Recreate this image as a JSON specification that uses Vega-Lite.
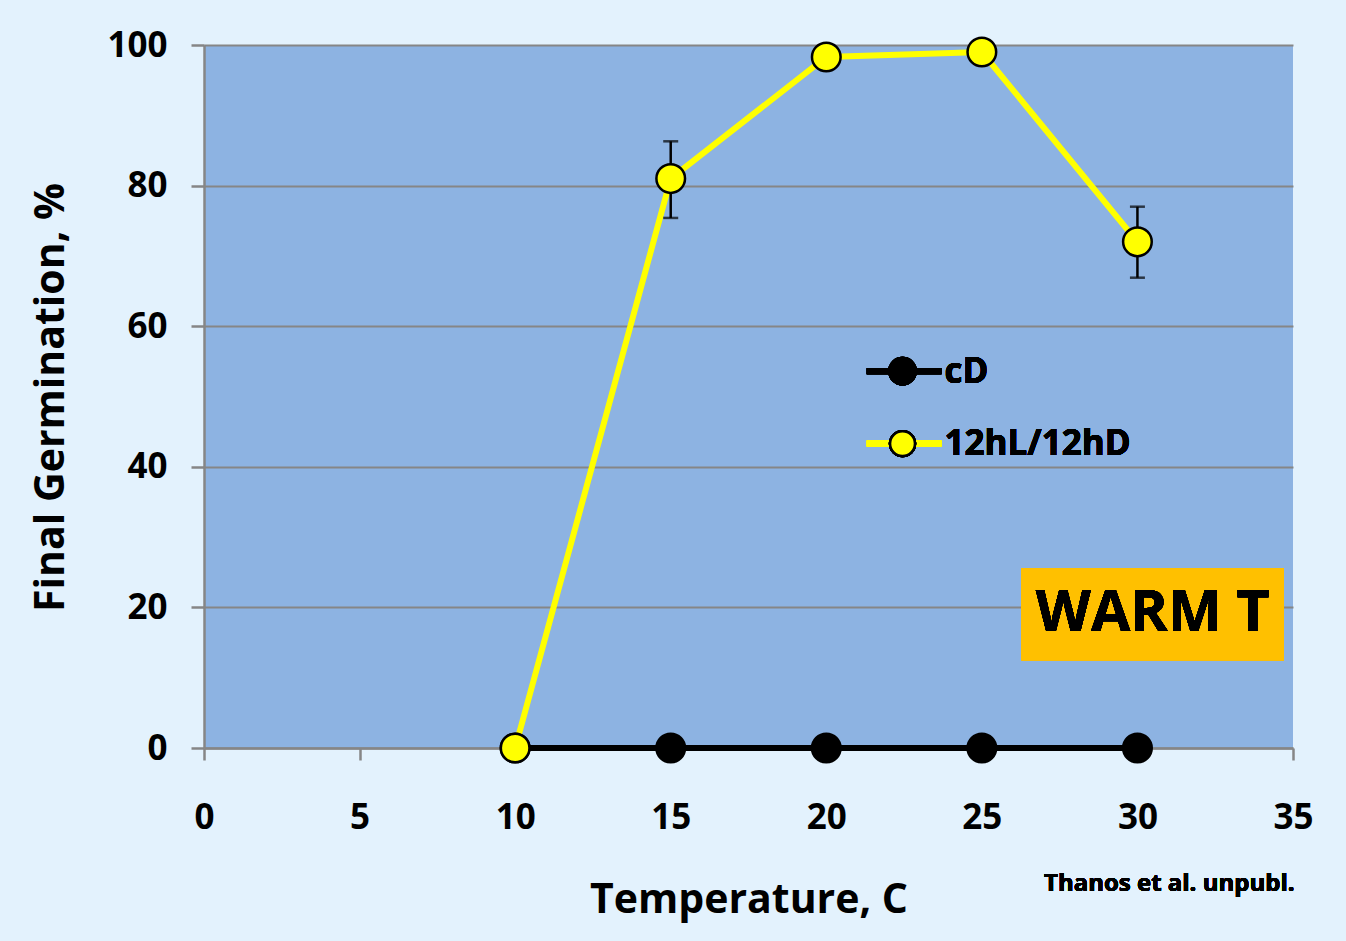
{
  "$schema": "https://vega.github.io/schema/vega-lite/v6.json",
  "width": 1089,
  "height": 703,
  "autosize": {"type": "none"},
  "padding": {"left": 204, "top": 45, "right": 53, "bottom": 193},
  "background": "#E3F2FD",
  "config": {
    "font": "Open Sans",
    "view": {"fill": "#8DB3E2", "stroke": null},
    "axis": {
      "labelFont": "Open Sans", "labelFontWeight": "bold", "labelFontSize": 35, "labelColor": "black",
      "titleFont": "Open Sans", "titleFontWeight": "bold", "titleFontSize": 41, "titleColor": "black",
      "domainColor": "#868686", "domainWidth": 2.5,
      "tickColor": "#868686", "tickWidth": 2.5, "tickSize": 12,
      "gridColor": "#868686", "gridWidth": 2,
      "labelFlush": false
    }
  },
  "data": {
    "values": [
      {"temp": 10, "germ": 0, "series": "cD"},
      {"temp": 15, "germ": 0, "series": "cD"},
      {"temp": 20, "germ": 0, "series": "cD"},
      {"temp": 25, "germ": 0, "series": "cD"},
      {"temp": 30, "germ": 0, "series": "cD"},
      {"temp": 10, "germ": 0, "series": "12hL/12hD"},
      {"temp": 15, "germ": 81, "lo": 75.4, "hi": 86.3, "series": "12hL/12hD"},
      {"temp": 20, "germ": 98.3, "series": "12hL/12hD"},
      {"temp": 25, "germ": 99, "series": "12hL/12hD"},
      {"temp": 30, "germ": 72, "lo": 66.9, "hi": 77, "series": "12hL/12hD"}
    ]
  },
  "layer": [
    {
      "mark": {"type": "line", "strokeWidth": 6},
      "encoding": {
        "x": {"field": "temp", "type": "quantitative",
              "scale": {"domain": [0, 35], "nice": false, "zero": false},
              "axis": {"title": "Temperature, C", "values": [0, 5, 10, 15, 20, 25, 30, 35], "grid": false,
                       "labelPadding": 40, "titleY": 164, "titleBaseline": "alphabetic"}},
        "y": {"field": "germ", "type": "quantitative",
              "scale": {"domain": [0, 100], "nice": false},
              "axis": {"title": "Final Germination, %", "values": [0, 20, 40, 60, 80, 100], "grid": true,
                       "labelPadding": 24, "tickSize": 13,
                       "titleX": -141, "titleY": 352, "titleAngle": -90, "titleAlign": "center", "titleBaseline": "alphabetic"}},
        "color": {"field": "series", "type": "nominal",
                  "scale": {"domain": ["cD", "12hL/12hD"], "range": ["#000000", "#FFFF00"]},
                  "legend": null},
        "detail": {"field": "series"}
      }
    },
    {
      "transform": [{"filter": "isValid(datum.lo)"}],
      "mark": {"type": "rule", "color": "black", "strokeWidth": 2.5},
      "encoding": {
        "x": {"field": "temp", "type": "quantitative"},
        "y": {"field": "lo", "type": "quantitative"},
        "y2": {"field": "hi"}
      }
    },
    {
      "transform": [{"filter": "isValid(datum.lo)"}],
      "mark": {"type": "tick", "orient": "horizontal", "color": "black", "size": 15, "thickness": 2.5},
      "encoding": {
        "x": {"field": "temp", "type": "quantitative"},
        "y": {"field": "lo", "type": "quantitative"}
      }
    },
    {
      "transform": [{"filter": "isValid(datum.hi)"}],
      "mark": {"type": "tick", "orient": "horizontal", "color": "black", "size": 15, "thickness": 2.5},
      "encoding": {
        "x": {"field": "temp", "type": "quantitative"},
        "y": {"field": "hi", "type": "quantitative"}
      }
    },
    {
      "mark": {"type": "point", "shape": "circle", "filled": true, "size": 820, "stroke": "black", "strokeWidth": 2.5, "opacity": 1},
      "encoding": {
        "x": {"field": "temp", "type": "quantitative"},
        "y": {"field": "germ", "type": "quantitative"},
        "color": {"field": "series", "type": "nominal", "legend": null}
      }
    },
    {
      "mark": {"type": "rule", "color": "black", "strokeWidth": 6},
      "encoding": {"x": {"datum": 21.3}, "x2": {"datum": 23.7}, "y": {"datum": 53.6}}
    },
    {
      "mark": {"type": "point", "shape": "circle", "filled": true, "size": 820, "color": "black", "opacity": 1},
      "encoding": {"x": {"datum": 22.45}, "y": {"datum": 53.6}}
    },
    {
      "mark": {"type": "text", "text": "cD", "align": "left", "baseline": "middle", "fontSize": 35, "fontWeight": "bold", "font": "Open Sans", "color": "black"},
      "encoding": {"x": {"datum": 23.8}, "y": {"datum": 53.5}}
    },
    {
      "mark": {"type": "rule", "color": "#FFFF00", "strokeWidth": 6},
      "encoding": {"x": {"datum": 21.3}, "x2": {"datum": 23.7}, "y": {"datum": 43.3}}
    },
    {
      "mark": {"type": "point", "shape": "circle", "filled": true, "size": 620, "color": "#FFFF00", "stroke": "black", "strokeWidth": 2.5, "opacity": 1},
      "encoding": {"x": {"datum": 22.45}, "y": {"datum": 43.3}}
    },
    {
      "mark": {"type": "text", "text": "12hL/12hD", "align": "left", "baseline": "middle", "fontSize": 35, "fontWeight": "bold", "font": "Open Sans", "color": "black"},
      "encoding": {"x": {"datum": 23.8}, "y": {"datum": 43.2}}
    },
    {
      "mark": {"type": "rect", "color": "#FFC000", "opacity": 1},
      "encoding": {"x": {"datum": 26.27}, "x2": {"datum": 34.71}, "y": {"datum": 25.6}, "y2": {"datum": 12.5}}
    },
    {
      "mark": {"type": "text", "text": "WARM T", "align": "center", "baseline": "middle", "fontSize": 57, "fontWeight": "bold", "font": "Open Sans", "color": "black"},
      "encoding": {"x": {"datum": 30.49}, "y": {"datum": 19.0}}
    },
    {
      "mark": {"type": "text", "text": "Thanos et al. unpubl.", "align": "right", "baseline": "middle", "fontSize": 24, "fontWeight": "bold", "font": "Open Sans", "color": "black", "clip": false},
      "encoding": {"x": {"datum": 35.05}, "y": {"datum": -19.3}}
    }
  ]
}
